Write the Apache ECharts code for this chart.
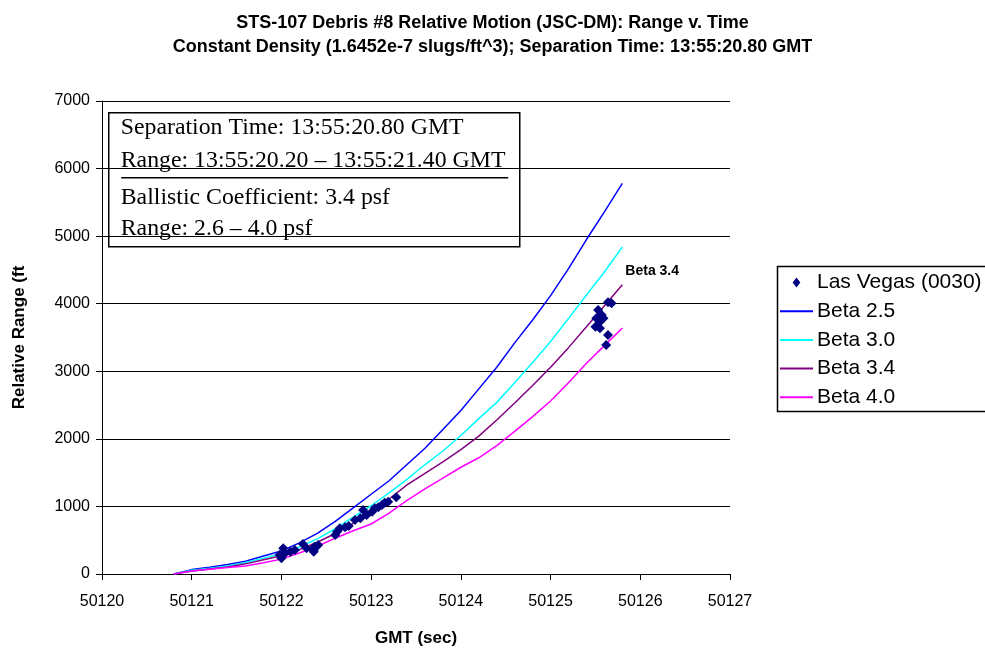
<!DOCTYPE html>
<html>
<head>
<meta charset="utf-8">
<script src="https://cdn.jsdelivr.net/npm/echarts@6/dist/echarts.min.js"></script>
<style>
  html, body { margin: 0; padding: 0; background: #fff; }
  #chart { width: 985px; height: 655px; }
</style>
</head>
<body>
<div id="chart"></div>
<script>
// Model time grid (GMT seconds) shared by the four ballistic-coefficient curves
const modelTimes = [50120.8, 50121.0, 50121.2, 50121.4, 50121.6, 50121.8, 50122.0, 50122.2, 50122.4,
  50122.6, 50122.8, 50123.0, 50123.2, 50123.4, 50123.6, 50123.8, 50124.0, 50124.2, 50124.4,
  50124.6, 50124.8, 50125.0, 50125.2, 50125.4, 50125.6, 50125.8];

// Relative range (ft) for each ballistic coefficient
const beta25 = [0, 65, 100, 140, 190, 265, 340, 460, 600, 780, 980, 1180, 1380, 1620, 1860, 2140,
  2420, 2740, 3060, 3420, 3760, 4120, 4520, 4950, 5360, 5780];
const beta30 = [0, 55, 85, 120, 170, 235, 300, 400, 520, 670, 840, 1010, 1200, 1400, 1620, 1820,
  2050, 2300, 2540, 2830, 3130, 3440, 3780, 4130, 4470, 4840];
const beta34 = [0, 45, 75, 105, 150, 210, 270, 360, 470, 600, 750, 900, 1110, 1320, 1490, 1660,
  1840, 2040, 2280, 2530, 2790, 3060, 3350, 3660, 3970, 4280];
const beta40 = [0, 45, 70, 95, 120, 165, 220, 310, 410, 530, 640, 740, 900, 1090, 1260, 1420,
  1580, 1720, 1900, 2110, 2330, 2560, 2830, 3120, 3380, 3640];

// Las Vegas (0030) video-derived observations
const obsTimes = [50122.02, 50121.98, 50122.00, 50122.04, 50122.10, 50122.15, 50122.24, 50122.28,
  50122.36, 50122.37, 50122.41, 50122.36, 50122.62, 50122.60, 50122.65, 50122.71, 50122.75,
  50122.82, 50122.88, 50122.91, 50122.95, 50123.01, 50123.04, 50123.08, 50123.12, 50123.15,
  50123.19, 50123.28,
  50125.68, 50125.64, 50125.53, 50125.57, 50125.59, 50125.51, 50125.55, 50125.50, 50125.55,
  50125.64, 50125.62];
const obsRanges = [380, 281, 232, 306, 330, 355, 444, 380, 355, 404, 429, 330, 626, 577, 676, 691,
  710, 799, 824, 947, 873, 922, 972, 987, 1021, 1055, 1070, 1135,
  4006, 4021, 3907, 3833, 3784, 3784, 3734, 3660, 3636, 3537, 3389];

const xTicks = { min: 50120, max: 50127, step: 1 };
const yTicks = { min: 0, max: 7000, step: 1000 };

const titleLines = [
  'STS-107 Debris #8 Relative Motion (JSC-DM): Range v. Time',
  'Constant Density (1.6452e-7 slugs/ft^3); Separation Time: 13:55:20.80 GMT'
];
const noteLines = [
  'Separation Time: 13:55:20.80 GMT',
  'Range: 13:55:20.20 \u2013 13:55:21.40 GMT',
  'Ballistic Coefficient: 3.4 psf',
  'Range: 2.6 \u2013 4.0 psf'
];

const pair = (xs, ys) => xs.map((x, i) => [x, ys[i]]);

const curves = [
  { name: 'Beta 2.5', values: beta25, color: '#0000FF' },
  { name: 'Beta 3.0', values: beta30, color: '#00FFFF' },
  { name: 'Beta 3.4', values: beta34, color: '#800080' },
  { name: 'Beta 4.0', values: beta40, color: '#FF00FF' }
];

const FONT = '"Liberation Sans", Arial, sans-serif';
const SERIF = '"Liberation Serif", "Times New Roman", serif';

const chart = echarts.init(document.getElementById('chart'), null, { renderer: 'canvas' });

const lineSeries = curves.map(c => {
  const s = {
    name: c.name,
    type: 'line',
    data: pair(modelTimes, c.values),
    showSymbol: false,
    symbol: 'none',
    lineStyle: { color: c.color, width: 1.5 },
    itemStyle: { color: c.color },
    silent: true,
    animation: false,
    z: 2
  };
  if (c.name === 'Beta 3.4') {
    const n = modelTimes.length - 1;
    s.markPoint = {
      symbol: 'circle',
      symbolSize: 0,
      silent: true,
      animation: false,
      data: [{ coord: [modelTimes[n], c.values[n]] }],
      label: {
        show: true,
        formatter: c.name,
        position: 'right',
        offset: [-2, -14],
        color: '#000',
        fontFamily: FONT,
        fontWeight: 'bold',
        fontSize: 14
      }
    };
  }
  return s;
});

// Legend glyphs: a small diamond for the observations, a flat bar for each curve
const diamondPath = 'path://M0,-1.3L1,0L0,1.3L-1,0Z';
const barPath = 'path://M0,0H33V2H0Z';

chart.setOption({
  animation: false,
  backgroundColor: '#fff',
  title: {
    text: titleLines.join('\n'),
    left: 'center',
    top: 6,
    textStyle: {
      fontFamily: FONT,
      fontWeight: 'bold',
      fontSize: 18,
      lineHeight: 24,
      color: '#000'
    }
  },
  grid: { left: 102, right: 255, top: 101, bottom: 81, containLabel: false },
  xAxis: {
    type: 'value',
    min: xTicks.min,
    max: xTicks.max,
    interval: xTicks.step,
    name: 'GMT (sec)',
    nameLocation: 'middle',
    nameGap: 56,
    nameTextStyle: { fontFamily: FONT, fontWeight: 'bold', fontSize: 17, color: '#000' },
    axisLine: { show: true, onZero: false, lineStyle: { color: '#000', width: 1 } },
    axisTick: { show: true, inside: false, length: 6, lineStyle: { color: '#000' } },
    axisLabel: {
      margin: 20,
      fontFamily: FONT,
      fontSize: 16,
      color: '#000',
      formatter: v => String(v)
    },
    splitLine: { show: false }
  },
  yAxis: {
    type: 'value',
    min: yTicks.min,
    max: yTicks.max,
    interval: yTicks.step,
    name: 'Relative Range (ft',
    nameLocation: 'middle',
    nameGap: 74,
    nameRotate: 90,
    nameTextStyle: { fontFamily: FONT, fontWeight: 'bold', fontSize: 17, color: '#000' },
    axisLine: { show: true, lineStyle: { color: '#000', width: 1 } },
    axisTick: { show: true, inside: false, length: 6, lineStyle: { color: '#000' } },
    axisLabel: {
      margin: 12,
      fontFamily: FONT,
      fontSize: 16,
      color: '#000',
      formatter: v => String(v)
    },
    splitLine: { show: true, lineStyle: { color: '#000', width: 1 } }
  },
  legend: {
    orient: 'vertical',
    left: 780,
    top: 272,
    padding: 0,
    itemWidth: 33,
    itemHeight: 10,
    itemGap: 7.7,
    symbolKeepAspect: true,
    textStyle: { fontFamily: FONT, fontSize: 21, lineHeight: 21, color: '#000', padding: [0, 0, 0, -1] },
    data: [
      { name: 'Las Vegas (0030)', icon: diamondPath, itemStyle: { color: '#000080' } },
      { name: 'Beta 2.5', icon: barPath },
      { name: 'Beta 3.0', icon: barPath },
      { name: 'Beta 3.4', icon: barPath },
      { name: 'Beta 4.0', icon: barPath }
    ]
  },
  graphic: [
    {
      type: 'rect',
      left: 775, top: 264,
      shape: { width: 240, height: 145 },
      style: { fill: 'none', stroke: '#000', lineWidth: 1.5 },
      z: 0, silent: true
    },
    {
      type: 'group',
      left: 108, top: 112,
      z: 10,
      children: [
        {
          type: 'rect',
          shape: { x: 0, y: 0, width: 411, height: 134 },
          style: { fill: '#fff', stroke: '#000', lineWidth: 1.5 }
        },
        {
          type: 'line',
          shape: { x1: 12.5, y1: 65, x2: 399.5, y2: 65 },
          style: { stroke: '#000', lineWidth: 1.5 }
        }
      ].concat(noteLines.map((t, i) => ({
        type: 'text',
        x: 12,
        y: [15, 48, 85, 116][i],
        style: {
          text: t,
          fill: '#000',
          font: '23.8px ' + SERIF,
          verticalAlign: 'middle'
        }
      })))
    }
  ],
  series: [
    {
      name: 'Las Vegas (0030)',
      type: 'scatter',
      data: pair(obsTimes, obsRanges),
      symbol: 'diamond',
      symbolSize: 10,
      itemStyle: { color: '#000080', opacity: 1 },
      silent: true,
      animation: false,
      z: 5
    }
  ].concat(lineSeries)
});
</script>
</body>
</html>
